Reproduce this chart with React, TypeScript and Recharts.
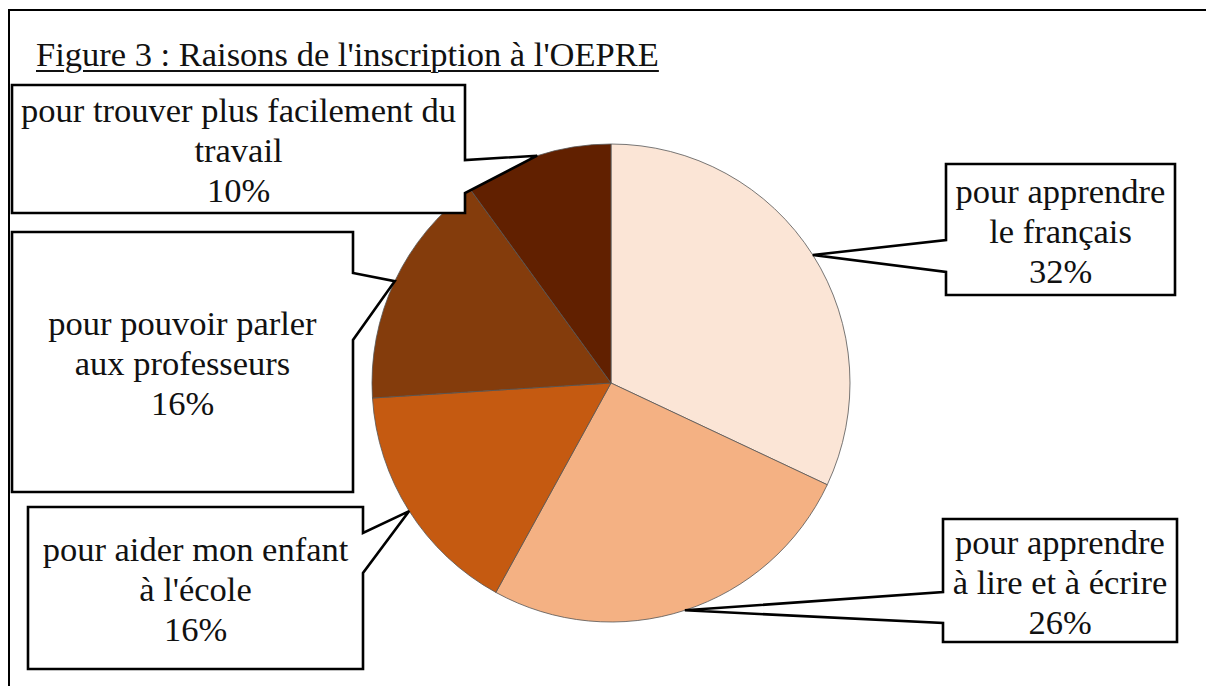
import { Cell, Pie, PieChart } from "recharts";

// Raisons de l'inscription à l'OEPRE (share of respondents, %)
const reasons = [
  "pour apprendre le français",
  "pour apprendre à lire et à écrire",
  "pour aider mon enfant à l'école",
  "pour pouvoir parler aux professeurs",
  "pour trouver plus facilement du travail",
];
const shares = [32, 26, 16, 16, 10];
// how each label breaks inside its callout box
const labelLines = [
  ["pour apprendre", "le français"],
  ["pour apprendre", "à lire et à écrire"],
  ["pour aider mon enfant", "à l'école"],
  ["pour pouvoir parler", "aux professeurs"],
  ["pour trouver plus facilement du", "travail"],
];
const sliceColors = ["#FBE5D6", "#F4B183", "#C55A11", "#843C0C", "#612000"];

const data = reasons.map((name, i) => ({ name, value: shares[i] }));

const W = 1206;
const H = 686;
const FONT = "'Liberation Serif', serif";
const FS = 34.5;
const RAD = Math.PI / 180;

// callout box layout: [x0, y0, x1, y1], side the pointer leaves from, pointer base (y range)
type Box = { box: [number, number, number, number]; side: "left" | "right"; base: [number, number] };
const callouts: Box[] = [
  { box: [946, 164, 1175, 295], side: "left", base: [240, 272] },
  { box: [943, 519, 1177, 642], side: "left", base: [592, 623] },
  { box: [28, 507, 363, 669], side: "right", base: [533, 573] },
  { box: [12, 232, 353, 492], side: "right", base: [273, 340] },
  { box: [12, 85, 465, 213], side: "right", base: [160, 193] },
];

function Callout(props: any) {
  const { cx, cy, midAngle, outerRadius, index, value } = props;
  const c = callouts[index];
  const tx = cx + outerRadius * Math.cos(-midAngle * RAD);
  const ty = cy + outerRadius * Math.sin(-midAngle * RAD);
  const [x0, y0, x1, y1] = c.box;
  const [b0, b1] = c.base;
  const d =
    c.side === "left"
      ? `M${x0},${y0} L${x1},${y0} L${x1},${y1} L${x0},${y1} L${x0},${b1} L${tx},${ty} L${x0},${b0} Z`
      : `M${x0},${y0} L${x1},${y0} L${x1},${b0} L${tx},${ty} L${x1},${b1} L${x1},${y1} L${x0},${y1} Z`;
  const lines = [...labelLines[index], `${value}%`];
  const mx = (x0 + x1) / 2;
  const my = (y0 + y1) / 2;
  const lh = 40;
  return (
    <g>
      <path d={d} fill="#fff" stroke="#000" strokeWidth={2.6} strokeLinejoin="miter" />
      <text textAnchor="middle" style={{ fontFamily: FONT, fontSize: FS }} fill="#111">
        {lines.map((t, i) => (
          <tspan key={i} x={mx} y={my + (i - 1) * lh + 13}>
            {t}
          </tspan>
        ))}
      </text>
    </g>
  );
}

export default function App() {
  return (
    <div style={{ position: "absolute", left: 0, top: 0, width: W, height: H, background: "#fff", overflow: "hidden" }}>
      <div
        style={{
          position: "absolute",
          left: 8,
          top: 9,
          width: W,
          height: H,
          borderLeft: "2.5px solid #000",
          borderTop: "2.5px solid #000",
        }}
      />
      <div
        style={{
          position: "absolute",
          left: 36,
          top: 34,
          fontFamily: FONT,
          fontSize: FS,
          lineHeight: "40px",
          color: "#111",
          textDecoration: "underline",
          textDecorationThickness: 2,
          textUnderlineOffset: 4,
          whiteSpace: "nowrap",
        }}
      >
        Figure 3 : Raisons de l'inscription à l'OEPRE
      </div>
      <div style={{ position: "absolute", left: 0, top: 0 }}>
        <PieChart width={W} height={H} margin={{ top: 0, right: 0, bottom: 0, left: 0 }}>
          <Pie
            data={data}
            dataKey="value"
            nameKey="name"
            cx={611}
            cy={383}
            outerRadius={239}
            startAngle={90}
            endAngle={-270}
            stroke="#555"
            strokeWidth={0.8}
            label={Callout}
            labelLine={false}
            isAnimationActive={false}
          >
            {data.map((d, i) => (
              <Cell key={d.name} fill={sliceColors[i]} />
            ))}
          </Pie>
        </PieChart>
      </div>
    </div>
  );
}
